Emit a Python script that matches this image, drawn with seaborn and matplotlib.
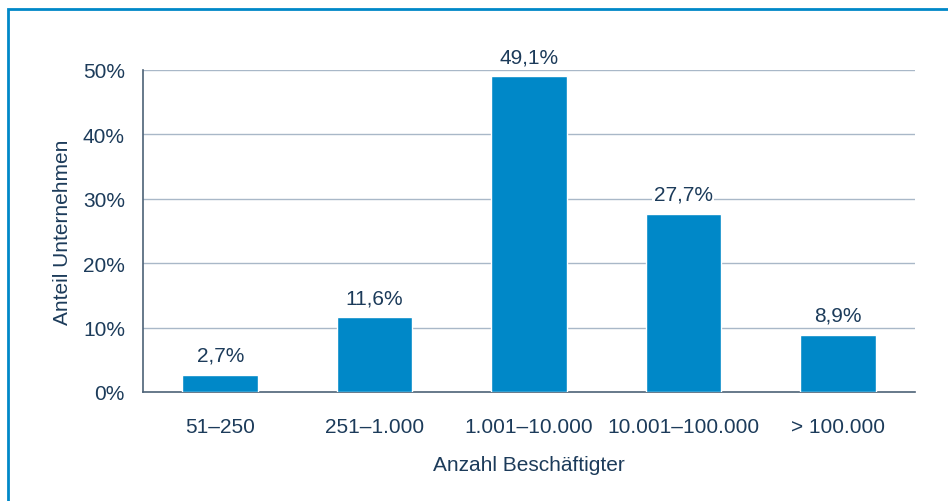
import numpy as np
import pandas as pd
import matplotlib.pyplot as plt
import seaborn as sns
from matplotlib.patches import Rectangle
from matplotlib.ticker import FixedLocator

# chart data
categories = ['51–250', '251–1.000', '1.001–10.000', '10.001–100.000', '> 100.000']
shares = [2.7, 11.6, 49.1, 27.7, 8.9]
y_ticks = [0, 10, 20, 30, 40, 50]

text_col = '#1c3b5a'
bar_col = '#0088c8'
grid_col = '#a9b8c8'
spine_col = '#4d6277'

sns.set_style('white')
plt.rcParams['font.family'] = ['Liberation Sans', 'DejaVu Sans']
plt.rcParams['font.size'] = 15

df = pd.DataFrame({'Kategorie': categories, 'Anteil': shares})

fig = plt.figure(figsize=(9.48, 5.02), dpi=100)
ax = fig.add_axes([143 / 948, 109 / 502, 772 / 948, 322 / 502])

sns.barplot(data=df, x='Kategorie', y='Anteil', color=bar_col,
            saturation=1, width=0.49, ax=ax, zorder=3)

ax.set_xlim(-0.5, len(categories) - 0.5)
ax.set_ylim(0, 50)
ax.set_yticks(y_ticks)
ax.set_yticklabels([f'{v}%' for v in y_ticks], color=text_col)
ax.set_xticks(range(len(categories)))
ax.set_xticklabels(categories, color=text_col)
ax.xaxis.set_minor_locator(FixedLocator(np.arange(-0.5, len(categories), 1.0)))

ax.tick_params(axis='x', which='major', length=0, pad=18)
ax.tick_params(axis='x', which='minor', direction='in', length=6,
               color=spine_col, width=1)
ax.tick_params(axis='y', direction='in', length=6, color=spine_col,
               width=1, pad=13)

# gridlines
for v in y_ticks[1:]:
    ax.axhline(v, color=grid_col, lw=1, zorder=1)

for side in ['top', 'right']:
    ax.spines[side].set_visible(False)
for side in ['left', 'bottom']:
    ax.spines[side].set_color(spine_col)
    ax.spines[side].set_linewidth(1.2)

ax.set_xlabel('Anzahl Beschäftigter', color=text_col, labelpad=14)
ax.set_ylabel('Anteil Unternehmen', color=text_col, labelpad=8)

# value labels
for cont in ax.containers:
    labels = [f'{v:.1f}%'.replace('.', ',') for v in cont.datavalues]
    txts = ax.bar_label(cont, labels=labels, padding=7, color=text_col)
    for t in txts:
        t.set_bbox(dict(facecolor='white', edgecolor='none', pad=1))
        t.set_zorder(5)

# blue frame around figure
fig.patches.append(Rectangle((8 / 948, -0.1), 1.2, (492 / 502) + 0.1,
                             transform=fig.transFigure, fill=False,
                             edgecolor=bar_col, lw=2, clip_on=False))

fig.savefig('out.png', dpi=100)
